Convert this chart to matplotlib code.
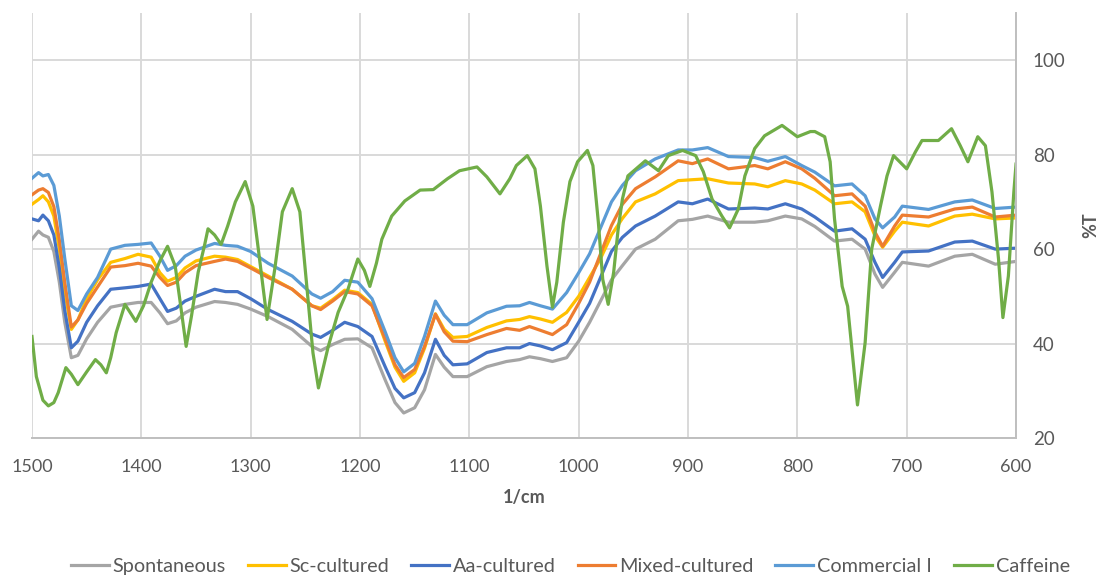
import matplotlib
matplotlib.use("Agg")
import matplotlib.pyplot as plt

plt.rcParams['font.family'] = ['Lato', 'DejaVu Sans']

# wavenumbers (1/cm) shared by the five sample spectra
wn = [1500, 1494, 1490, 1485, 1480, 1475, 1470, 1464, 1458, 1450, 1440, 1428,
      1415, 1403, 1391, 1383, 1376, 1368, 1360, 1350, 1333, 1323, 1312, 1300,
      1284, 1262, 1244, 1236, 1225, 1214, 1202, 1189, 1177, 1168, 1160, 1150,
      1141, 1131, 1123, 1115, 1102, 1084, 1066, 1054, 1045, 1035, 1024, 1011,
      1000, 990, 980, 970, 960, 948, 930, 909, 896, 882, 863, 839, 827, 811,
      796, 784, 766, 750, 738, 729, 722, 711, 704, 680, 656, 640, 619, 600]

spontaneous = [62.1, 63.8, 63.0, 62.5, 59.5, 53.0, 44.5, 37.0, 37.5, 41.0, 44.5, 47.7,
               48.3, 48.7, 48.7, 46.5, 44.2, 44.8, 46.5, 47.7, 48.9, 48.7, 48.3, 47.3,
               45.7, 43.0, 39.4, 38.5, 39.8, 40.9, 41.0, 39.1, 32.3, 27.5, 25.3, 26.4,
               30.2, 37.7, 35.0, 33.0, 33.0, 35.1, 36.2, 36.6, 37.2, 36.8, 36.2, 37.0,
               40.5, 44.5, 49.0, 53.5, 56.5, 60.0, 62.1, 66.0, 66.3, 67.0, 65.7, 65.7,
               66.0, 67.0, 66.4, 64.8, 61.7, 62.1, 60.0, 54.7, 51.9, 55.1, 57.2, 56.4,
               58.5, 58.9, 56.8, 57.4]

sc_cultured = [69.5, 70.5, 71.3, 70.0, 67.0, 60.0, 51.0, 43.0, 45.0, 49.5, 53.5, 57.2,
               58.0, 58.9, 58.3, 55.0, 53.2, 54.0, 56.0, 57.5, 58.5, 58.3, 57.8, 56.3,
               54.3, 51.5, 48.0, 47.5, 49.3, 51.3, 50.8, 48.3, 40.5, 35.0, 32.0, 33.8,
               39.0, 46.3, 43.0, 41.3, 41.5, 43.4, 44.8, 45.1, 45.7, 45.2, 44.5, 46.6,
               50.0, 54.0, 58.0, 63.0, 66.5, 70.0, 71.7, 74.5, 74.7, 74.9, 74.0, 73.8,
               73.2, 74.5, 73.8, 72.5, 69.6, 70.0, 67.9, 62.8, 60.4, 63.8, 65.7, 64.9,
               67.0, 67.4, 66.4, 66.6]

aa_cultured = [66.4, 66.0, 67.2, 66.0, 63.0, 56.0, 47.0, 39.1, 40.5, 44.5, 48.0, 51.5,
               51.8, 52.1, 52.6, 49.5, 46.8, 47.5, 49.0, 50.0, 51.5, 51.0, 51.0, 49.5,
               47.2, 44.7, 42.0, 41.3, 42.8, 44.5, 43.6, 41.5, 35.1, 30.5, 28.5, 29.6,
               33.8, 40.9, 37.5, 35.5, 35.7, 38.1, 39.1, 39.1, 40.0, 39.5, 38.7, 40.2,
               44.5, 48.5, 54.0, 59.5, 62.5, 64.9, 67.0, 70.0, 69.6, 70.6, 68.5, 68.7,
               68.5, 69.6, 68.5, 66.8, 63.8, 64.3, 62.1, 57.2, 54.0, 57.2, 59.4, 59.6,
               61.5, 61.7, 60.0, 60.2]

mixed_cultured = [71.5, 72.5, 72.8, 72.0, 69.0, 62.0, 53.0, 43.5, 45.0, 48.5, 52.0, 56.2,
                  56.5, 57.0, 56.4, 54.0, 52.3, 53.0, 55.0, 56.5, 57.4, 57.9, 57.4, 56.0,
                  54.0, 51.5, 48.0, 47.2, 49.0, 51.0, 50.5, 48.0, 41.0, 35.5, 32.8, 34.5,
                  39.4, 46.2, 42.5, 40.5, 40.4, 41.9, 43.2, 42.8, 43.6, 42.8, 41.9, 44.0,
                  48.5, 53.0, 59.0, 65.0, 69.5, 72.8, 75.3, 78.7, 78.1, 79.1, 77.0, 77.7,
                  77.0, 78.5, 77.0, 75.0, 71.3, 71.7, 69.1, 63.6, 60.6, 64.9, 67.2, 66.8,
                  68.5, 68.9, 66.8, 67.2]

commercial = [75.0, 76.2, 75.5, 75.8, 73.5, 67.0, 58.0, 48.0, 47.0, 50.5, 54.0, 60.0,
              60.8, 61.0, 61.3, 58.5, 55.5, 56.5, 58.5, 59.8, 61.2, 60.8, 60.6, 59.5,
              57.0, 54.3, 50.5, 49.6, 51.0, 53.4, 53.0, 49.5, 42.5, 37.0, 34.0, 35.8,
              41.5, 49.0, 46.0, 44.0, 44.0, 46.5, 47.9, 48.0, 48.7, 48.0, 47.3, 50.8,
              55.0, 59.0, 64.5, 70.0, 73.5, 76.6, 79.1, 81.0, 81.0, 81.5, 79.6, 79.4,
              78.6, 79.6, 77.7, 76.3, 73.4, 73.8, 71.3, 66.4, 64.5, 66.8, 69.1, 68.4,
              70.0, 70.4, 68.6, 68.9]

# caffeine reference spectrum has sharper bands, so its own wavenumbers
caf_wn = [1500, 1496, 1490, 1485, 1480, 1476, 1469, 1464, 1458, 1450, 1442, 1437,
          1432, 1428, 1423, 1415, 1405, 1398, 1391, 1383, 1376, 1369, 1364, 1359,
          1354, 1348, 1342, 1339, 1333, 1327, 1321, 1314, 1305, 1298, 1293, 1285,
          1278, 1271, 1262, 1255, 1249, 1243, 1238, 1229, 1220, 1211, 1202, 1196,
          1191, 1185, 1180, 1171, 1159, 1145, 1133, 1120, 1109, 1093, 1084, 1072,
          1063, 1057, 1047, 1040, 1035, 1029, 1024, 1020, 1014, 1008, 1001, 992,
          987, 982, 978, 973, 968, 964, 960, 955, 939, 927, 918, 905, 893, 886,
          878, 869, 862, 854, 848, 839, 830, 814, 800, 788, 784, 775, 770, 766,
          759, 754, 745, 738, 732, 724, 718, 712, 700, 692, 686, 671, 659, 651,
          644, 635, 628, 622, 616, 612, 607, 602, 600]
caffeine = [41.5, 33.0, 28.0, 26.8, 27.5, 29.6, 34.9, 33.5, 31.3, 34.0, 36.6, 35.5,
            33.8, 37.0, 42.3, 48.3, 44.7, 48.0, 53.0, 57.5, 60.6, 56.4, 48.0, 39.4,
            46.0, 55.1, 61.0, 64.3, 63.0, 61.0, 64.9, 70.0, 74.3, 69.1, 60.0, 45.1,
            55.7, 67.9, 72.8, 67.9, 53.0, 38.0, 30.6, 39.4, 46.6, 51.5, 57.9, 55.5,
            52.1, 57.0, 62.1, 67.0, 70.2, 72.5, 72.6, 74.9, 76.6, 77.4, 75.3, 71.7,
            74.9, 77.7, 79.8, 77.0, 69.1, 56.4, 47.7, 53.0, 65.7, 74.3, 78.5, 80.9,
            77.7, 65.7, 53.6, 48.3, 55.1, 64.0, 70.6, 75.5, 78.7, 76.6, 79.8, 80.9,
            79.8, 76.4, 70.6, 67.0, 64.5, 68.5, 75.5, 81.3, 84.0, 86.2, 83.8, 84.9,
            84.9, 83.8, 78.5, 66.4, 52.1, 47.9, 27.0, 40.2, 60.0, 69.1, 75.5, 79.8,
            77.0, 80.6, 83.0, 83.0, 85.5, 81.9, 78.5, 83.8, 81.9, 72.1, 57.9, 45.5,
            54.3, 72.1, 78.0]

labels = ['Spontaneous', 'Sc-cultured', 'Aa-cultured', 'Mixed-cultured',
          'Commercial I', 'Caffeine']
colors = ['#A5A5A5', '#FFC000', '#4472C4', '#ED7D31', '#5B9BD5', '#70AD47']

fig = plt.figure(figsize=(10.99, 5.76), dpi=100)
ax = fig.add_axes([0.0291, 0.2396, 0.8954, 0.7378])

series = [spontaneous, sc_cultured, aa_cultured, mixed_cultured, commercial]
for vals, lab, col in zip(series, labels[:5], colors[:5]):
    ax.plot(wn, vals, color=col, lw=2.3, label=lab, solid_joinstyle='round')
ax.plot(caf_wn, caffeine, color=colors[5], lw=2.3, label=labels[5],
        solid_joinstyle='round')

ax.set_xlim(1500, 600)
ax.set_ylim(20, 110)
ax.set_xticks(range(1500, 599, -100))
ax.set_yticks(range(20, 101, 20))
ax.yaxis.tick_right()
ax.yaxis.set_label_position('right')
ax.grid(True, color='#D9D9D9', lw=1.4)
ax.set_axisbelow(True)
for s in ['top', 'left']:
    ax.spines[s].set_visible(False)
for s in ['bottom', 'right']:
    ax.spines[s].set_color('#BFBFBF')
    ax.spines[s].set_linewidth(1.4)
ax.tick_params(axis='x', length=0, pad=15, labelsize=13, labelcolor='#595959')
ax.tick_params(axis='y', length=0, pad=12, labelsize=13.5, labelcolor='#595959')

ax.set_xlabel('1/cm', fontsize=13, fontweight='bold', color='#595959', labelpad=10)
ax.set_ylabel('%T', fontsize=13, fontweight='bold', color='#595959', labelpad=12)

fig.legend(loc='lower center', bbox_to_anchor=(0.519, -0.03), ncol=6,
           frameon=False, fontsize=14.3, labelcolor='#595959',
           handlelength=1.9, handletextpad=0.2, columnspacing=1.1)

fig.savefig('out.png', dpi=100)
